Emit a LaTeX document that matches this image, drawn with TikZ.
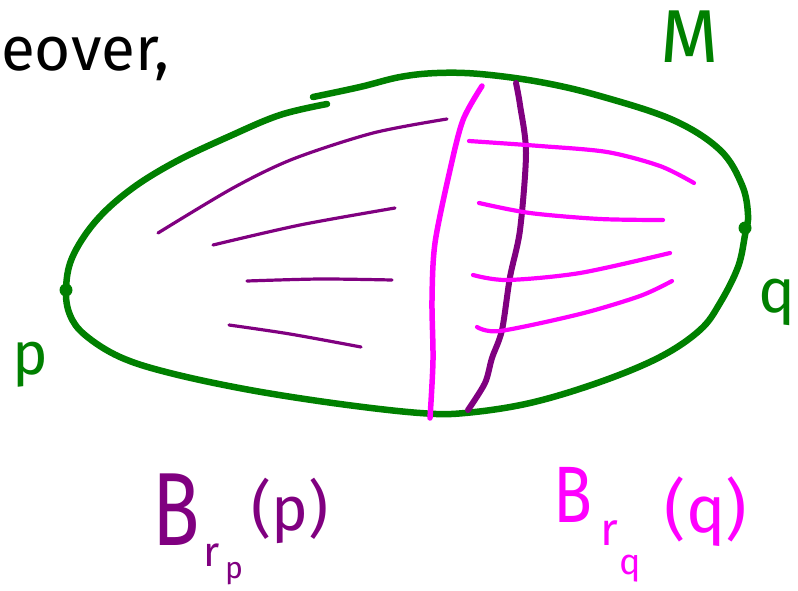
\documentclass[tikz,border=0pt]{standalone}
\usepackage{fontspec}
\setmainfont{Fira Sans}
\definecolor{gr}{RGB}{0,128,0}
\definecolor{pu}{RGB}{128,0,128}
\definecolor{mg}{RGB}{255,0,255}
\tikzset{
  outline/.style={draw=gr,line width=6.5pt,line cap=round,line join=round},
  thickpu/.style={draw=pu,line width=6pt,line cap=round,line join=round},
  thickmg/.style={draw=mg,line width=5.5pt,line cap=round,line join=round},
  thinpu/.style={draw=pu,line width=3.2pt,line cap=round},
  thinmg/.style={draw=mg,line width=4.2pt,line cap=round},
  lbl/.style={inner sep=0pt,anchor=base},
  dotp/.style={circle,fill=gr,inner sep=0pt,minimum size=13pt}
}
\begin{document}
\begin{tikzpicture}[x=1pt,y=-1pt]
\useasboundingbox[fill=white] (0,0) rectangle (798,590);
% outline of M
\draw[outline] plot[smooth,tension=0.6] coordinates{
 (313,97) (360,87) (400,77) (437,73) (480,74) (540,82) (600,96) (673,120)
 (720,150) (742,185) (748,215) (745,235) (738,267) (720,303) (700,330)
 (660,357) (600,382) (530,403) (465,413) (420,413) (340,404) (250,390)
 (170,373) (120,357) (85,335) (70,315) (66,290) (72,258) (95,222)
 (130,190) (175,162) (230,136) (280,115) (327,104)};
\node[dotp] (p) at (66,290) {};
\node[dotp] (q) at (745,228) {};
% purple lines from p
\draw[thinpu] plot[smooth] coordinates{(158,233) (233,188) (293,159) (373,133) (447,119)};
\draw[thinpu] plot[smooth] coordinates{(213,245) (300,225) (395,208)};
\draw[thinpu] plot[smooth] coordinates{(247,281) (320,279) (392,280)};
\draw[thinpu] plot[smooth] coordinates{(229,325) (290,334) (361,347)};
% magenta vertical
\draw[thickmg] plot[smooth] coordinates{(482,86) (463,120) (450,170) (435,243) (432,300) (433,360) (430,418)};
% purple vertical
\draw[thickpu] plot[smooth] coordinates{(516,83) (520,105) (526,153) (520,230) (510,277) (502,330) (492,358) (485,383) (468,410)};
% magenta lines from q
\draw[thinmg] plot[smooth] coordinates{(469,141) (540,146) (607,152) (660,166) (694,183)};
\draw[thinmg] plot[smooth] coordinates{(479,203) (530,213) (600,219) (663,220)};
\draw[thinmg] plot[smooth] coordinates{(473,275) (507,280) (580,273) (670,253)};
\draw[thinmg] plot[smooth] coordinates{(477,327) (500,331) (580,314) (640,296) (672,281)};
% labels
\node[lbl,anchor=base west,font=\fontsize{62}{62}\selectfont] (txt) at (1,70) {eover,};
\node[lbl,text=gr,font=\fontsize{75}{75}\selectfont] (Mlab) at (690,62) {M};
\node[lbl,text=gr,font=\fontsize{60}{60}\selectfont] (plab) at (30,374) {p};
\node[lbl,text=gr,font=\fontsize{62}{62}\selectfont] (qlab) at (777,312) {q};
% B_{r_p}(p)
\node[lbl,anchor=base west,text=pu,xscale=0.75,font=\fontsize{104}{104}\selectfont] (Bp) at (152,545) {B};
\node[lbl,text=pu,font=\fontsize{42}{42}\selectfont] (rp) at (212,566) {r};
\node[lbl,text=pu,font=\fontsize{30}{30}\selectfont] (rpp) at (234,578) {p};
\node[lbl,text=pu,font=\fontsize{62}{62}\selectfont] (pp) at (290,530) {(p)};
% B_{r_q}(q)
\node[lbl,anchor=base west,text=mg,xscale=0.8,font=\fontsize{80}{80}\selectfont] (Bq) at (553,522) {B};
\node[lbl,text=mg,font=\fontsize{46}{46}\selectfont] (rq) at (609,545) {r};
\node[lbl,text=mg,font=\fontsize{36}{36}\selectfont] (rqq) at (630,574) {q};
\node[lbl,text=mg,font=\fontsize{66}{66}\selectfont] (qq) at (706,532) {(q)};
\end{tikzpicture}
\end{document}
